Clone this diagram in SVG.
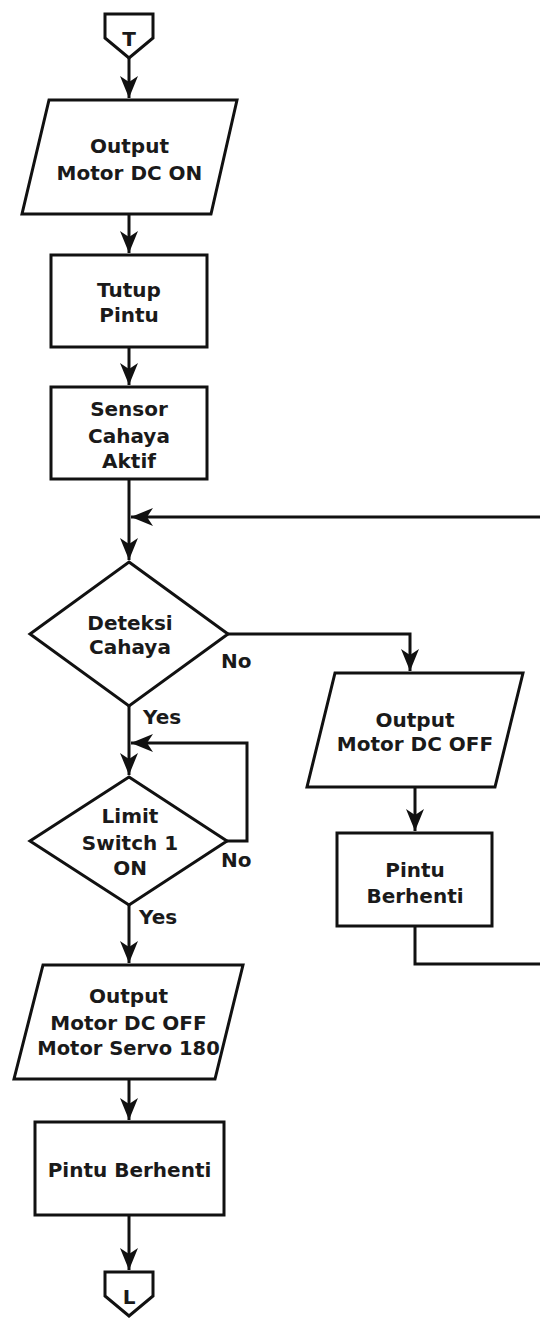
<svg xmlns="http://www.w3.org/2000/svg" width="540" height="1318" viewBox="0 0 540 1318">
<style>
.s{fill:#fff;stroke:#111;stroke-width:3;stroke-linejoin:miter}
.c{fill:none;stroke:#111;stroke-width:3}
.t{font-family:"DejaVu Sans","Liberation Sans",sans-serif;font-weight:bold;font-size:20px;fill:#1a1a1a;text-anchor:middle}
.l{font-family:"DejaVu Sans","Liberation Sans",sans-serif;font-weight:bold;font-size:20px;fill:#1a1a1a}
</style>
<defs>
<marker id="ah" markerUnits="userSpaceOnUse" markerWidth="26" markerHeight="22" viewBox="-23 -11 25 22" refX="0" refY="0" orient="auto">
<path d="M0,0 L-22,-9 L-16,0 L-22,9 Z" fill="#111"/>
</marker>
</defs>
<rect width="540" height="1318" fill="#fff"/>
<g id="connectors">
<path class="c" d="M129,58 V98" marker-end="url(#ah)"/>
<path class="c" d="M129,214 V253" marker-end="url(#ah)"/>
<path class="c" d="M129,347 V385" marker-end="url(#ah)"/>
<path class="c" d="M129,479 V560" marker-end="url(#ah)"/>
<path class="c" d="M228,634 H410 V671" marker-end="url(#ah)"/>
<path class="c" d="M129,706 V775" marker-end="url(#ah)"/>
<path class="c" d="M227,841 H247 V743 H131" marker-end="url(#ah)"/>
<path class="c" d="M129,905 V963" marker-end="url(#ah)"/>
<path class="c" d="M129,1079 V1120" marker-end="url(#ah)"/>
<path class="c" d="M129,1215 V1270" marker-end="url(#ah)"/>
<path class="c" d="M415,787 V831" marker-end="url(#ah)"/>
<path class="c" d="M415,926 V964 H543 V517 H131" marker-end="url(#ah)"/>
</g>
<g id="labels">
<text class="l" x="221" y="668">No</text>
<text class="l" x="143" y="724">Yes</text>
<text class="l" x="221" y="867">No</text>
<text class="l" x="139" y="924">Yes</text>
</g>
<g id="start-T">
<path class="s" d="M105,14 H153 V38 L129,58 L105,38 Z"/>
<text class="t" x="129" y="46">T</text>
</g>
<g id="output-on">
<path class="s" d="M49,100 H237 L211,214 H22 Z"/>
<text class="t" x="129.5" y="153">Output</text>
<text class="t" x="129.5" y="180">Motor DC ON</text>
</g>
<g id="tutup-pintu">
<rect class="s" x="51" y="255" width="156" height="92"/>
<text class="t" x="129" y="297">Tutup</text>
<text class="t" x="129" y="322">Pintu</text>
</g>
<g id="sensor">
<rect class="s" x="51" y="387" width="156" height="92"/>
<text class="t" x="129" y="416">Sensor</text>
<text class="t" x="129" y="443">Cahaya</text>
<text class="t" x="129" y="468">Aktif</text>
</g>
<g id="deteksi">
<path class="s" d="M129,562 L228,634 L129,706 L30,634 Z"/>
<text class="t" x="130" y="630">Deteksi</text>
<text class="t" x="130" y="654">Cahaya</text>
</g>
<g id="limit">
<path class="s" d="M129,777 L227,841 L129,905 L30,841 Z"/>
<text class="t" x="130" y="823">Limit</text>
<text class="t" x="130" y="850">Switch 1</text>
<text class="t" x="130" y="875">ON</text>
</g>
<g id="output-off">
<path class="s" d="M335,673 H523 L495,787 H307 Z"/>
<text class="t" x="415" y="727">Output</text>
<text class="t" x="415" y="751">Motor DC OFF</text>
</g>
<g id="pintu-berhenti-1">
<rect class="s" x="337" y="833" width="155" height="93"/>
<text class="t" x="415" y="877">Pintu</text>
<text class="t" x="415" y="903">Berhenti</text>
</g>
<g id="output-servo">
<path class="s" d="M43,965 H243 L215,1079 H14 Z"/>
<text class="t" x="128.5" y="1003">Output</text>
<text class="t" x="128.5" y="1030">Motor DC OFF</text>
<text class="t" x="128.5" y="1055" style="font-size:19.5px">Motor Servo 180</text>
</g>
<g id="pintu-berhenti-2">
<rect class="s" x="35" y="1122" width="189" height="93"/>
<text class="t" x="129.5" y="1177">Pintu Berhenti</text>
</g>
<g id="end-L">
<path class="s" d="M105,1272 H153 V1296 L129,1316 L105,1296 Z"/>
<text class="t" x="129" y="1304">L</text>
</g>
</svg>
